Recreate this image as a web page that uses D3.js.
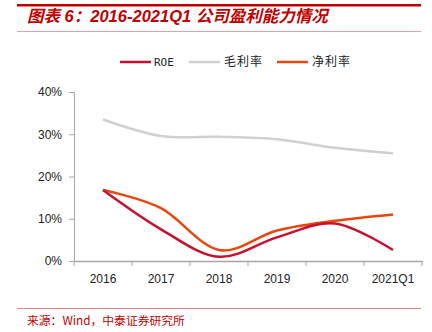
<!DOCTYPE html>
<html>
<head>
<meta charset="utf-8">
<script src="https://cdn.jsdelivr.net/npm/d3@7"></script>
<style>
  body { margin: 0; background: #fff; }
  svg { display: block; }
</style>
</head>
<body>
<div id="chart"></div>
<script>
// data (percent)
const years = ["2016", "2017", "2018", "2019", "2020", "2021Q1"];
const roe = [16.8, 7.5, 1.0, 5.6, 8.9, 2.6];
const grossMargin = [33.5, 29.6, 29.4, 28.8, 26.8, 25.5];
const netMargin = [16.8, 12.5, 2.6, 7.2, 9.5, 11.0];
const yTicks = [0, 10, 20, 30, 40];

const series = [
  { name: "ROE", values: roe, color: "#c8102e" },
  { name: "毛利率", values: grossMargin, color: "#d0d0d0" },
  { name: "净利率", values: netMargin, color: "#e8470e" }
];

const width = 432, height = 332;
const plot = { left: 74, right: 422, top: 92, bottom: 261 };

const svg = d3.select("#chart").append("svg")
  .attr("width", width)
  .attr("height", height);

// header band + title
svg.append("rect").attr("x", 17).attr("y", 4).attr("width", 404).attr("height", 2.5).attr("fill", "#c00000");
svg.append("text")
  .attr("x", 27).attr("y", 22)
  .attr("fill", "#c00000")
  .attr("font-family", "'Liberation Sans', 'Noto Sans CJK SC', sans-serif")
  .attr("font-size", 16.5)
  .attr("font-weight", "bold")
  .attr("font-style", "italic")
  .text("图表 6：2016-2021Q1 公司盈利能力情况");
svg.append("line").attr("x1", 17).attr("x2", 421).attr("y1", 31.5).attr("y2", 31.5)
  .attr("stroke", "#e8a0a0").attr("stroke-width", 1);

// scales
const x = d3.scaleBand().domain(years).range([plot.left, plot.right]);
const y = d3.scaleLinear().domain([0, 40]).range([plot.bottom, plot.top]);

// y axis
const yAxis = svg.append("g")
  .attr("transform", `translate(${plot.left},0)`)
  .call(d3.axisLeft(y).tickValues(yTicks).tickFormat(d => d + "%").tickSize(5).tickPadding(7));
yAxis.select(".domain").attr("stroke", "#a6a6a6");
yAxis.selectAll(".tick line").attr("stroke", "#a6a6a6");
yAxis.selectAll("text")
  .attr("font-family", "'Liberation Sans', Arial, sans-serif")
  .attr("font-size", 12).attr("fill", "#222");

// x axis
const xAxis = svg.append("g")
  .attr("transform", `translate(0,${plot.bottom})`)
  .call(d3.axisBottom(x).tickSize(0).tickPadding(13));
xAxis.select(".domain").attr("stroke", "#a6a6a6").attr("stroke-width", 1.5);
xAxis.selectAll("text")
  .attr("font-family", "'Liberation Sans', Arial, sans-serif")
  .attr("font-size", 12).attr("fill", "#222");
// category separators
svg.append("g").selectAll("line")
  .data(years.concat(["end"]))
  .join("line")
  .attr("x1", (d, i) => plot.left + i * x.bandwidth())
  .attr("x2", (d, i) => plot.left + i * x.bandwidth())
  .attr("y1", plot.bottom).attr("y2", plot.bottom + 5)
  .attr("stroke", "#a6a6a6");

// lines
const line = d3.line()
  .x((d, i) => x(years[i]) + x.bandwidth() / 2)
  .y(d => y(d))
  .curve(d3.curveCatmullRom.alpha(0));

svg.append("g").selectAll("path")
  .data([series[1], series[2], series[0]])
  .join("path")
  .attr("d", d => line(d.values))
  .attr("fill", "none")
  .attr("stroke", d => d.color)
  .attr("stroke-width", 2.5);

// legend
const legendX = [120, 189, 277];
const legend = svg.append("g").selectAll("g")
  .data(series)
  .join("g")
  .attr("transform", (d, i) => `translate(${legendX[i]},62)`);
legend.append("line")
  .attr("x1", 0).attr("x2", 31).attr("y1", 0).attr("y2", 0)
  .attr("stroke", d => d.color).attr("stroke-width", 2.5);
legend.append("text")
  .attr("x", (d, i) => i === 0 ? 34 : 35)
  .attr("y", 4)
  .attr("font-family", "'DejaVu Sans Mono', 'Noto Sans CJK SC', monospace")
  .attr("font-size", (d, i) => i === 0 ? 11 : 12)
  .attr("letter-spacing", (d, i) => i === 0 ? 0 : 1)
  .attr("fill", "#222")
  .text(d => d.name);

// footer
svg.append("line").attr("x1", 17).attr("x2", 421).attr("y1", 308.5).attr("y2", 308.5)
  .attr("stroke", "#e88080").attr("stroke-width", 1);
svg.append("text")
  .attr("x", 27).attr("y", 325)
  .attr("fill", "#c00000")
  .attr("font-family", "'Noto Sans CJK SC', sans-serif")
  .attr("font-size", 11.8)
  .text("来源：Wind，中泰证券研究所");
</script>
</body>
</html>
